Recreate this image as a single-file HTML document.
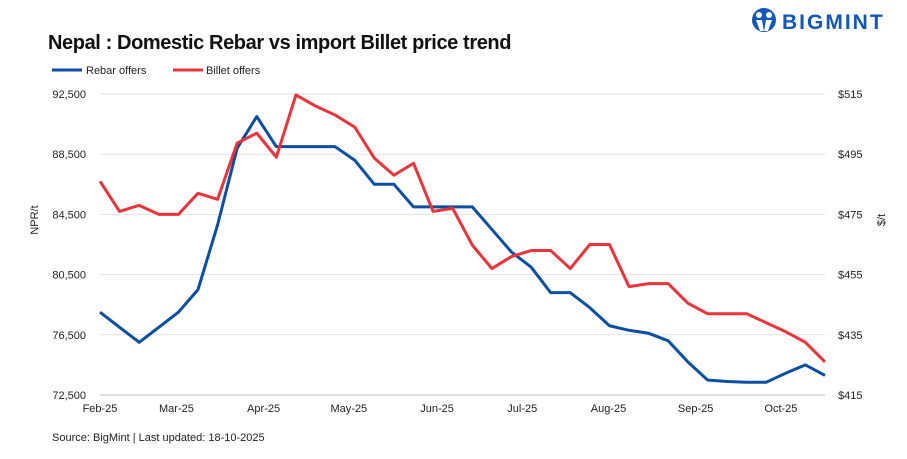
<!DOCTYPE html>
<html><head><meta charset="utf-8"><style>
body{margin:0;background:#fff;font-family:"Liberation Sans",sans-serif;}
svg text{font-family:"Liberation Sans",sans-serif;}
</style></head><body>
<svg id="c" width="907" height="454" xmlns="http://www.w3.org/2000/svg">
<rect width="907" height="454" fill="#fff"/>
<g>
<circle cx="764" cy="20" r="12" fill="#1357b8"/>
<circle cx="759" cy="15" r="3" fill="#fff"/><circle cx="769" cy="15" r="3" fill="#fff"/>
<path d="M756 20 L762 20 L764 32 L766 20 L772 20 L768 31 L760 31 Z" fill="#fff"/>
<text x="782" y="29" font-size="21" font-weight="bold" fill="#1357b8" letter-spacing="2">BIGMINT</text>
</g>
<text x="48" y="49" font-size="20" font-weight="bold" fill="#111" letter-spacing="-0.4">Nepal : Domestic Rebar vs import Billet price trend</text>
<g>
<line x1="52" y1="70" x2="82" y2="70" stroke="#0b4ea2" stroke-width="3"/>
<text x="86" y="74" font-size="11" fill="#222">Rebar offers</text>
<line x1="173" y1="70" x2="203" y2="70" stroke="#e8343a" stroke-width="3"/>
<text x="206" y="74" font-size="11" fill="#222">Billet offers</text>
</g>
<g id="grid"></g><g id="axes"></g><g id="series"></g>
<text transform="translate(38,220) rotate(-90)" font-size="11" fill="#222" text-anchor="middle">NPR/t</text>
<text transform="translate(885,220) rotate(-90)" font-size="11" fill="#222" text-anchor="middle">$/t</text>
<text x="52" y="441" font-size="11" fill="#222">Source: BigMint | Last updated: 18-10-2025</text>
</svg>
<script>
const months=["Feb-25","Mar-25","Apr-25","May-25","Jun-25","Jul-25","Aug-25","Sep-25","Oct-25"];
const monthIdx=[0,3.9,8.35,12.7,17.2,21.55,25.95,30.4,34.75];
const leftTicks=[72500,76500,80500,84500,88500,92500];
const rightTicks=[415,435,455,475,495,515];
const rebar=[78000,77000,76000,77000,78000,79500,83800,88900,91000,89000,89000,89000,89000,88100,86500,86500,85000,85000,85000,85000,83500,82000,81000,79300,79300,78300,77100,76800,76600,76100,74700,73500,73400,73350,73350,73950,74500,73800];
const billet=[486,476,478,475,475,482,480,498.7,502,494,514.7,511,508,504,493.7,488,492,476,477,464.8,457,461,463,463,457,465,465,451,452,452,445.5,442,442,442,439,436,432.5,426];
const NS="http://www.w3.org/2000/svg";
const x0=100,x1=825,yT=94,yB=395,n=rebar.length;
const xs=i=>x0+i*(x1-x0)/(n-1);
const yL=v=>yB-(v-72500)/20000*(yB-yT);
const yR=v=>yB-(v-415)/100*(yB-yT);
function mk(t,a,p){const e=document.createElementNS(NS,t);for(const k in a)e.setAttribute(k,a[k]);p.appendChild(e);return e;}
const grid=document.getElementById('grid'),axes=document.getElementById('axes'),ser=document.getElementById('series');
leftTicks.forEach((v,i)=>{
 const y=yL(v);
 const g=mk('line',{x1:x0,x2:x1,y1:y,y2:y,stroke:i==0?'#bbb':'#e3e3e3','stroke-width':1},grid);
 
 
 const t=mk('text',{x:86,y:y+4,'font-size':11,fill:'#222','text-anchor':'end'},axes);t.textContent=v.toLocaleString('en-US');
 
 
});
rightTicks.forEach(v=>{
 const t=mk('text',{x:838,y:yR(v)+4,'font-size':11,fill:'#222'},axes);t.textContent='$'+v;
 
 
});
months.forEach((m,i)=>{
 const t=mk('text',{x:xs(monthIdx[i]),y:412,'font-size':11,fill:'#222','text-anchor':'middle'},axes);t.textContent=m;
 
 
});
const pr=mk('polyline',{points:rebar.map((v,i)=>xs(i)+','+yL(v)).join(' '),fill:'none',stroke:'#0b4ea2','stroke-width':3,'stroke-linejoin':'round'},ser);


const pb=mk('polyline',{points:billet.map((v,i)=>xs(i)+','+yR(v)).join(' '),fill:'none',stroke:'#e8343a','stroke-width':3,'stroke-linejoin':'round'},ser);


</script>
</body></html>
